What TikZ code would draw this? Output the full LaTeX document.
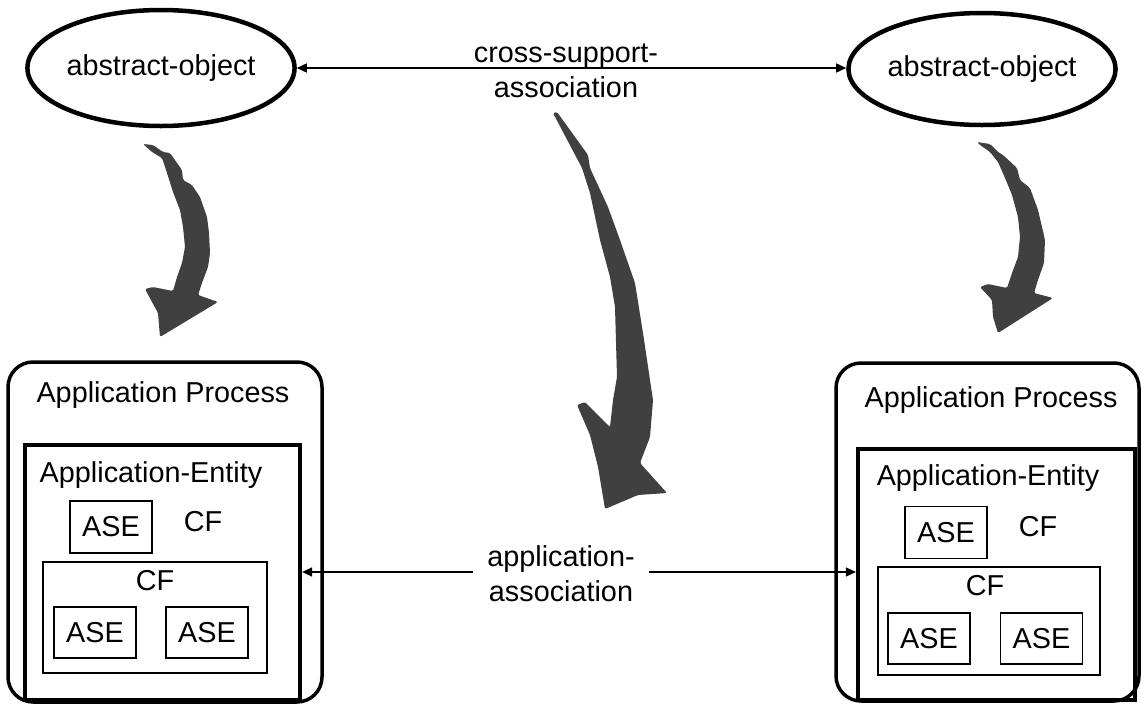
\documentclass[tikz,border=0pt]{standalone}
\usepackage{fontspec}
\setmainfont{Liberation Sans}
\usetikzlibrary{shapes.geometric,arrows.meta}
\definecolor{arrowgray}{HTML}{404040}
\begin{document}
\begin{tikzpicture}[x=1pt,y=-1pt,
 every node/.style={font=\fontsize{28.8}{35}\selectfont, inner sep=0pt},
 obj/.style={ellipse, draw, line width=4.5pt, minimum width=244pt, minimum height=116pt},
 procbox/.style={draw, line width=3.5pt, rounded corners=25pt},
 entbox/.style={draw, line width=4.2pt},
 asebox/.style={draw, line width=1.8pt, minimum width=82pt, minimum height=52pt},
 cfbox/.style={draw, line width=1.5pt},
 assoc/.style={line width=1.6pt, {Triangle[length=10pt,width=9pt]}-{Triangle[length=10pt,width=9pt]}},
 bigarrow/.style={fill=arrowgray, draw=none, rounded corners=1.5pt}
]
\useasboundingbox (0,0) rectangle (1141,710);

% abstract objects
\node[obj] (lo) at (161,68) {abstract-object};
\node[obj, minimum width=250pt, minimum height=112pt] (ro) at (982,69) {abstract-object};
\draw[assoc] (lo.east) -- (lo.east -| ro.west);
\node[align=center] (csa) at (566,70.5) {cross-support-\\association};

% left application process
\node[procbox, minimum width=314pt, minimum height=340pt] (lp) at (165,532) {};
\node (lpt) at (163,395) {Application Process};
\node[entbox, minimum width=275pt, minimum height=255pt] (lae) at (162.5,572.5) {};
\node (laet) at (151,475) {Application-Entity};
\node[asebox] (lase) at (111,527) {ASE};
\node (lcf) at (203,522) {CF};
\node[cfbox, minimum width=224pt, minimum height=111pt] (lcfb) at (155,617.5) {};
\node (lcfbt) at (155,581) {CF};
\node[asebox, minimum height=51pt] (lase1) at (95,632.5) {ASE};
\node[asebox, minimum height=51pt] (lase2) at (207,632.5) {ASE};

% right application process
\node[procbox, minimum width=303pt, minimum height=338pt] (rp) at (987.5,532) {};
\node (rpt) at (991,400) {Application Process};
\node[entbox, minimum width=277pt, minimum height=251pt] (rae) at (996.5,574.5) {};
\node (raet) at (988,478) {Application-Entity};
\node[asebox] (rase) at (946,532.5) {ASE};
\node (rcf) at (1038,527) {CF};
\node[cfbox, minimum width=222pt, minimum height=108pt] (rcfb) at (989,621) {};
\node (rcfbt) at (985,586) {CF};
\node[asebox, minimum height=51pt] (rase1) at (929,638.5) {ASE};
\node[asebox, minimum height=51pt] (rase2) at (1041.5,638.5) {ASE};

% application association
\draw[assoc] (lae.east |- 0,572) -- (rae.west |- 0,572);
\node[align=center, fill=white, inner xsep=14pt] (aa) at (561,574) {application-\\association};

% big gray arrows
\fill[bigarrow] (143,144) -- (153,145) -- (163,152) -- (170,153) -- (182,170) -- (183,180)
  -- (192,185) -- (200,197) -- (207,217) -- (209,233) -- (210,253) -- (208,267)
  -- (202,283) -- (198,295) -- (218,302) -- (160,337) -- (158,313) -- (145,289)
  -- (153,287) -- (173,291) -- (177,277) -- (182,263) -- (185,247) -- (183,227)
  -- (180,210) -- (173,192) -- (167,173) -- (162,158) -- (152,152) -- cycle;

\fill[bigarrow] (977,142) -- (990,144) -- (998,152) -- (1003,155) -- (1017,168) -- (1020,180)
  -- (1030,188) -- (1038,210) -- (1042,227) -- (1045,240) -- (1044,263) -- (1038,280)
  -- (1034,293) -- (1053,298) -- (998,333) -- (993,317) -- (992,300) -- (980,287)
  -- (988,284) -- (1007,288) -- (1012,273) -- (1018,257) -- (1020,237) -- (1018,217)
  -- (1012,195) -- (1005,178) -- (998,162) -- (990,152) -- (980,145) -- cycle;

\fill[bigarrow] (553,113) -- (557,112) -- (588,155) -- (590,168) -- (608,207) -- (620,240)
  -- (635,283) -- (643,333) -- (650,380) -- (653,400) -- (650,437) -- (640,463)
  -- (667,493) -- (638,495) -- (605,509) -- (598,467) -- (590,435) -- (577,405)
  -- (585,402) -- (610,427) -- (613,400) -- (617,377) -- (615,307) -- (610,277)
  -- (600,240) -- (590,193) -- (582,168) -- cycle;
\end{tikzpicture}
\end{document}
